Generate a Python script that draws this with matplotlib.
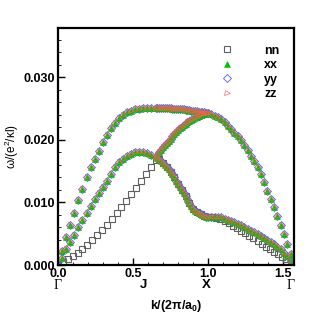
import numpy as np
import matplotlib.pyplot as plt

plt.rcParams['font.family'] = ['Liberation Sans', 'DejaVu Sans']
plt.rcParams['mathtext.fontset'] = 'custom'
plt.rcParams['mathtext.rm'] = 'Liberation Sans'
plt.rcParams['mathtext.bf'] = 'Liberation Sans:bold'

# k-points along Gamma - J - X - Gamma
k_gj = [0.0, 0.027, 0.054, 0.081, 0.108, 0.135, 0.163, 0.190, 0.217, 0.244, 0.271, 0.298, 0.325,
        0.352, 0.379, 0.406, 0.433, 0.460, 0.488, 0.515, 0.542, 0.569, 0.596, 0.623, 0.650]
k_jx = [0.6625, 0.675, 0.6875, 0.700, 0.7125, 0.725, 0.7375, 0.750, 0.7625, 0.775, 0.7875, 0.800,
        0.8125, 0.825, 0.8375, 0.850, 0.8625, 0.875, 0.8875, 0.900, 0.9125, 0.925, 0.9375, 0.950,
        0.9625, 0.975, 0.9875, 1.000]
k_xg = [1.022, 1.044, 1.066, 1.088, 1.110, 1.132, 1.154, 1.176, 1.198, 1.220, 1.242, 1.264, 1.286,
        1.308, 1.330, 1.352, 1.374, 1.396, 1.418, 1.440, 1.462, 1.484, 1.506, 1.528, 1.550]

# bands of xx / yy / zz (they coincide)
w_upper_gj = [0.0, 0.0023, 0.0045, 0.0064, 0.0083, 0.0104, 0.0122, 0.0140, 0.0157, 0.0170, 0.0183,
              0.0197, 0.0208, 0.0219, 0.0227, 0.0235, 0.0240, 0.0244, 0.0247, 0.0249, 0.0250,
              0.0251, 0.0251, 0.0251, 0.0251]
w_middle_gj = [0.0, 0.0012, 0.0025, 0.0037, 0.0048, 0.0060, 0.0072, 0.0083, 0.0094, 0.0105, 0.0115,
               0.0125, 0.0135, 0.0146, 0.0156, 0.0164, 0.0170, 0.0174, 0.0178, 0.0180, 0.0181,
               0.0181, 0.0179, 0.0176, 0.0172]
w_upper_jx = [0.0251, 0.0251, 0.0251, 0.0251, 0.0251, 0.0251, 0.0251, 0.0251, 0.0250, 0.0250,
              0.0250, 0.0250, 0.0249, 0.0249, 0.0249, 0.0248, 0.0248, 0.0248, 0.0247, 0.0247,
              0.0246, 0.0246, 0.0245, 0.0245, 0.0244, 0.0244, 0.0243, 0.0243]
w_middle_jx = [0.0171, 0.0169, 0.0166, 0.0163, 0.0160, 0.0157, 0.0153, 0.0149, 0.0145, 0.0140,
               0.0135, 0.0130, 0.0125, 0.0120, 0.0115, 0.0110, 0.0105, 0.0099, 0.0094, 0.0090,
               0.0087, 0.0085, 0.0083, 0.0081, 0.0080, 0.0078, 0.0077, 0.0076]
w_third_jx = [0.0176, 0.0180, 0.0184, 0.0188, 0.0192, 0.0195, 0.0199, 0.0202, 0.0206, 0.0209,
              0.0212, 0.0216, 0.0219, 0.0221, 0.0224, 0.0226, 0.0228, 0.0230, 0.0232, 0.0234,
              0.0236, 0.0237, 0.0239, 0.0240, 0.0241, 0.0242, 0.0243, 0.0243]
w_upper_xg = [0.0241, 0.0239, 0.0237, 0.0233, 0.0228, 0.0222, 0.0217, 0.0211, 0.0206, 0.0200,
              0.0192, 0.0184, 0.0175, 0.0166, 0.0156, 0.0145, 0.0133, 0.0119, 0.0106, 0.0093,
              0.0079, 0.0064, 0.0049, 0.0033, 0.0018]
w_middle_xg = [0.0077, 0.0077, 0.0077, 0.0076, 0.0074, 0.0072, 0.0070, 0.0068, 0.0066, 0.0064,
               0.0061, 0.0058, 0.0055, 0.0052, 0.0049, 0.0046, 0.0043, 0.0040, 0.0037, 0.0033,
               0.0029, 0.0025, 0.0020, 0.0014, 0.0007]

# nn branch
k_nn_gj = [0.0, 0.0325, 0.065, 0.0975, 0.13, 0.1625, 0.195, 0.2275, 0.26, 0.2925, 0.325, 0.3575,
           0.39, 0.4225, 0.455, 0.4875, 0.52, 0.5525, 0.585, 0.6175, 0.65]
w_nn_gj = [0.0, 0.0005, 0.0009, 0.0014, 0.0019, 0.0026, 0.0032, 0.0040, 0.0048, 0.0056, 0.0064,
           0.0073, 0.0083, 0.0093, 0.0103, 0.0114, 0.0123, 0.0134, 0.0145, 0.0156, 0.0168]
k_nn_jx = [0.675, 0.70, 0.725, 0.75, 0.775, 0.80, 0.825, 0.85, 0.875, 0.90, 0.925, 0.95, 0.975, 1.0]
w_nn_jx = [0.0169, 0.0163, 0.0157, 0.0149, 0.0140, 0.0130, 0.0120, 0.0110, 0.0099, 0.0090,
           0.0085, 0.0081, 0.0078, 0.0077]
k_nn_xg = [1.0275, 1.055, 1.0825, 1.11, 1.1375, 1.165, 1.1925, 1.22, 1.2475, 1.275, 1.3025, 1.33,
           1.3575, 1.385, 1.4125, 1.44, 1.4675, 1.495, 1.5225, 1.55]
w_nn_xg = [0.0076, 0.0075, 0.0073, 0.0070, 0.0067, 0.0063, 0.0059, 0.0055, 0.0051, 0.0047,
           0.0043, 0.0038, 0.0034, 0.0029, 0.0025, 0.0021, 0.0017, 0.0013, 0.0009, 0.0005]

sym_pos = [0.0, 0.57, 0.99, 1.55]
sym_labels = ['Γ', 'J', 'X', 'Γ']

k_band = np.concatenate([k_gj, k_gj, k_jx, k_jx, k_jx, k_xg, k_xg])
w_band = np.concatenate([w_upper_gj, w_middle_gj, w_upper_jx, w_middle_jx, w_third_jx,
                         w_upper_xg, w_middle_xg])
k_nn = np.concatenate([k_nn_gj, k_nn_jx, k_nn_xg])
w_nn = np.concatenate([w_nn_gj, w_nn_jx, w_nn_xg])

fig = plt.figure(figsize=(3.29, 3.29), dpi=100)
ax = fig.add_axes([0.1763, 0.1945, 0.7173, 0.7204])

h_nn, = ax.plot(k_nn, w_nn, 's', ms=4.2, mfc='none', mec='#606060', mew=0.8, label='nn')
h_yy, = ax.plot(k_band, w_band, 'D', ms=3.6, mfc='none', mec='#5a5aff', mew=0.6, label='yy')
h_xx, = ax.plot(k_band, w_band, '^', ms=4.0, mfc='#00c000', mec='#00c000', mew=0.4, label='xx')
h_zz, = ax.plot(k_band, w_band, '>', ms=3.6, mfc='none', mec='#ff5a5a', mew=0.45, label='zz')

ax.set_xlim(0, 1.573)
ax.set_ylim(0, 0.0379)
ax.set_xticks([0.0, 0.5, 1.0, 1.5])
ax.set_xticks(np.arange(0, 1.58, 0.1), minor=True)
ax.set_yticks([0.0, 0.010, 0.020, 0.030])
ax.set_yticks(np.arange(0, 0.0379, 0.002), minor=True)
ax.set_xticklabels(['0.0', '0.5', '1.0', '1.5'])
ax.set_yticklabels(['0.000', '0.010', '0.020', '0.030'])
ax.tick_params(which='both', direction='in', top=False, right=False, labelsize=9, pad=2)
ax.tick_params(which='major', length=5, width=1)
ax.tick_params(which='minor', length=2.5, width=0.6)
for t in ax.get_xticklabels() + ax.get_yticklabels():
    t.set_fontweight('bold')
for s in ax.spines.values():
    s.set_linewidth(1.6)

for x, lab in zip(sym_pos, sym_labels):
    if lab == 'Γ':
        ax.text(x, -0.0032, lab, transform=ax.transData, ha='center', va='center',
                fontsize=10, family='Liberation Serif', clip_on=False)
    else:
        ax.text(x, -0.0032, lab, transform=ax.transData, ha='center', va='center',
                fontsize=9.5, fontweight='bold', clip_on=False)

ax.set_xlabel(r'k/(2π/a$_{\mathbf{0}}$)', fontsize=9, fontweight='bold', labelpad=13)
ax.set_ylabel(r'ω/(e$^{2}$/κl)', fontsize=8.5, labelpad=2)

leg = ax.legend(handles=[h_nn, h_xx, h_yy, h_zz], loc='upper right', frameon=False,
                bbox_to_anchor=(0.96, 0.95), handlelength=1.0, handletextpad=2.5,
                labelspacing=0.2, borderaxespad=0, prop={'weight': 'bold', 'size': 9})

fig.savefig('out.png', dpi=100)
